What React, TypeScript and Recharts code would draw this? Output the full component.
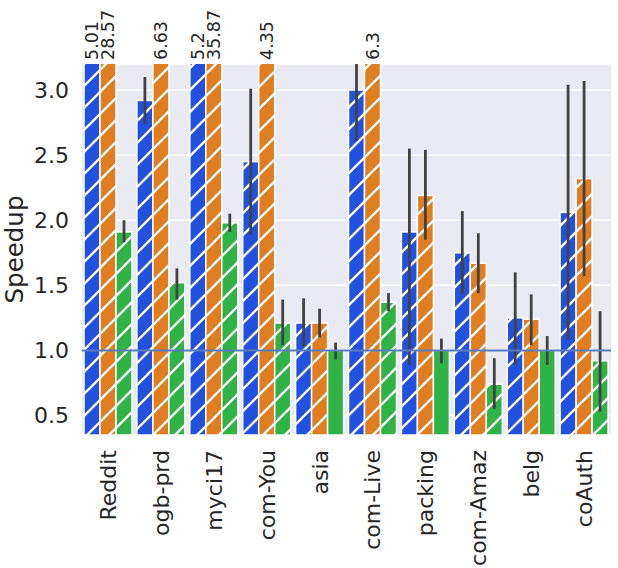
import React from 'react';
import { BarChart, Bar, XAxis, YAxis, CartesianGrid, ErrorBar, ReferenceLine, LabelList, Label } from 'recharts';

const CATEGORIES = ['Reddit', 'ogb-prd', 'myci17', 'com-You', 'asia', 'com-Live', 'packing', 'com-Amaz', 'belg', 'coAuth'];

const BLUE_VALUES = [5.01, 2.92, 5.2, 2.45, 1.21, 3.0, 1.91, 1.75, 1.25, 2.06];
const BLUE_LOW: (number | null)[] = [null, 2.74, null, 1.89, 1.03, 2.61, 0.89, 1.43, 0.89, 1.08];
const BLUE_HIGH: (number | null)[] = [null, 3.10, null, 3.01, 1.40, 3.2, 2.55, 2.07, 1.60, 3.04];

const ORANGE_VALUES = [28.57, 6.63, 35.87, 4.35, 1.21, 6.3, 2.19, 1.67, 1.24, 2.32];
const ORANGE_LOW: (number | null)[] = [null, null, null, null, 1.10, null, 1.85, 1.44, 1.04, 1.57];
const ORANGE_HIGH: (number | null)[] = [null, null, null, null, 1.32, null, 2.54, 1.90, 1.43, 3.07];

const GREEN_VALUES = [1.91, 1.52, 1.98, 1.21, 1.0, 1.37, 1.0, 0.74, 1.0, 0.92];
const GREEN_LOW = [1.83, 1.39, 1.91, 1.04, 0.93, 1.30, 0.90, 0.55, 0.89, 0.53];
const GREEN_HIGH = [2.00, 1.63, 2.05, 1.39, 1.06, 1.44, 1.09, 0.94, 1.11, 1.30];
const GREEN_HATCHED = [true, true, true, true, false, true, false, true, false, true];

const Y_TICKS = [0.5, 1.0, 1.5, 2.0, 2.5, 3.0];
const Y_MIN = 0.35;
const Y_MAX = 3.2;
const BASELINE = 1.0;

const COLORS = { blue: '#2250DF', orange: '#DF7D20', green: '#30B346' };
const FONT = 'DejaVu Sans';
const TEXT = '#262626';
const MARGIN = { top: 64, right: 7, left: 0, bottom: 0 };

const err = (v: number, lo: number | null, hi: number | null) =>
  lo == null || hi == null ? null : [v - lo, hi - v];

const data = CATEGORIES.map((name, i) => ({
  name,
  blue: BLUE_VALUES[i],
  orange: ORANGE_VALUES[i],
  green: GREEN_VALUES[i],
  blueErr: err(BLUE_VALUES[i], BLUE_LOW[i], BLUE_HIGH[i]),
  orangeErr: err(ORANGE_VALUES[i], ORANGE_LOW[i], ORANGE_HIGH[i]),
  greenErr: err(GREEN_VALUES[i], GREEN_LOW[i], GREEN_HIGH[i]),
  greenHatched: GREEN_HATCHED[i],
}));

const makeShape = (color: string, hatchKey?: string) => (props: any) => {
  const { x, y, width, height, payload } = props;
  const hatched = hatchKey ? !!(payload && payload[hatchKey]) : true;
  if (width == null || height == null) return <g />;
  return (
    <g>
      <rect x={x} y={y} width={width} height={height} fill={color} />
      {hatched && <rect x={x} y={y} width={width} height={height} fill="url(#hatch)" />}
      <rect x={x} y={y} width={width} height={height} fill="none" stroke="#ffffff" strokeWidth={1.5} />
    </g>
  );
};

const topLabel = (props: any) => {
  const { x, width, value } = props;
  if (value == null || value <= Y_MAX) return null;
  const cx = Number(x) + Number(width) / 2;
  const cy = MARGIN.top - 4;
  return (
    <text
      transform={`translate(${cx},${cy}) rotate(-90)`}
      textAnchor="start"
      dominantBaseline="central"
      fontFamily={FONT}
      fontSize={17.5}
      fill={TEXT}
    >
      {String(value)}
    </text>
  );
};

const CategoryTick = (props: any) => {
  const { x, y, payload } = props;
  return (
    <text
      transform={`translate(${x},${y}) rotate(-90)`}
      textAnchor="end"
      dominantBaseline="central"
      fontFamily={FONT}
      fontSize={22}
      fill={TEXT}
    >
      {payload.value}
    </text>
  );
};

const YLabel = (props: any) => {
  const vb = props.viewBox || {};
  const cx = (vb.x || 0) + 23;
  const cy = (vb.y || 0) + (vb.height || 0) / 2;
  return (
    <text
      transform={`translate(${cx},${cy}) rotate(-90)`}
      textAnchor="middle"
      fontFamily={FONT}
      fontSize={24.5}
      fill={TEXT}
    >
      Speedup
    </text>
  );
};

export default function App() {
  return (
    <div style={{ position: 'absolute', left: 0, top: 0, width: 618, height: 568, background: '#ffffff' }}>
      <BarChart width={618} height={568} data={data} margin={MARGIN} barGap={0} barSize={16}>
        <defs>
          <pattern id="hatch" patternUnits="userSpaceOnUse" width={22} height={22} patternTransform="translate(16,0)">
            <path d="M-2,24 L24,-2 M-2,2 L2,-2 M20,24 L24,20" stroke="#ffffff" strokeWidth={2.3} fill="none" />
          </pattern>
        </defs>
        <CartesianGrid vertical={false} stroke="#ffffff" strokeWidth={1.4} fill="#EAEAF2" />
        <XAxis
          dataKey="name"
          height={133}
          interval={0}
          tickLine={false}
          axisLine={false}
          tickSize={0}
          tickMargin={15}
          tick={<CategoryTick />}
        />
        <YAxis
          type="number"
          domain={[Y_MIN, Y_MAX]}
          allowDataOverflow
          ticks={Y_TICKS}
          width={82}
          tickLine={false}
          axisLine={false}
          tickSize={0}
          tickMargin={13}
          tickFormatter={(v: number) => v.toFixed(1)}
          tick={{ fontFamily: FONT, fontSize: 22, fill: TEXT }}
        >
          <Label content={<YLabel />} />
        </YAxis>
        <Bar dataKey="blue" isAnimationActive={false} shape={makeShape(COLORS.blue)}>
          <ErrorBar dataKey="blueErr" direction="y" width={0} stroke="#424242" strokeWidth={2.8} />
          <LabelList dataKey="blue" content={topLabel} />
        </Bar>
        <Bar dataKey="orange" isAnimationActive={false} shape={makeShape(COLORS.orange)}>
          <ErrorBar dataKey="orangeErr" direction="y" width={0} stroke="#424242" strokeWidth={2.8} />
          <LabelList dataKey="orange" content={topLabel} />
        </Bar>
        <Bar dataKey="green" isAnimationActive={false} shape={makeShape(COLORS.green, 'greenHatched')}>
          <ErrorBar dataKey="greenErr" direction="y" width={0} stroke="#424242" strokeWidth={2.8} />
        </Bar>
        <ReferenceLine y={BASELINE} stroke="#5a7dbd" strokeWidth={2} />
      </BarChart>
    </div>
  );
}
